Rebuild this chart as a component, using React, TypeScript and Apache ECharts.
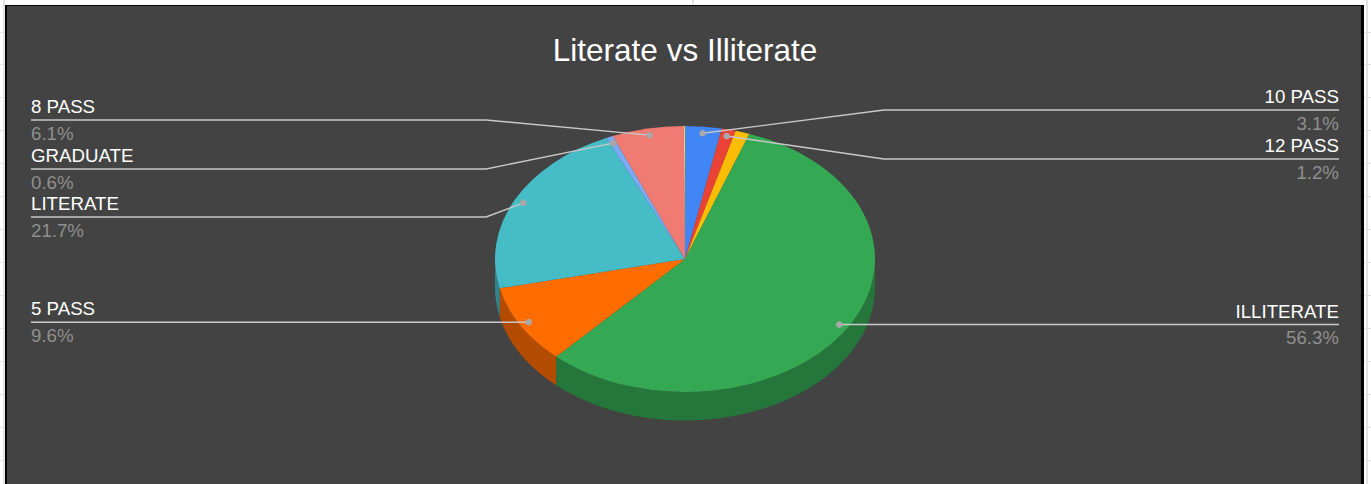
import React, { useEffect, useRef } from "react";
import * as echarts from "echarts";

const titleText = "Literate vs Illiterate";
const categories = ["10 PASS", "12 PASS", "", "ILLITERATE", "5 PASS", "LITERATE", "GRADUATE", "8 PASS", ""];
const shares = [3.1, 1.2, 1.2, 56.3, 9.6, 21.7, 0.6, 6.1, 0.1];
const sliceColors = ["#4285f4", "#ea4335", "#fbbc04", "#34a853", "#ff6d01", "#46bdc6", "#7baaf7", "#f07b72", "#fcd04f"];

// Leader-line layout, per slice: y of the horizontal run and x of its elbow (null = straight from the dot)
const leaderY = [110, 159, null, null, null, 217, 169, 120, null];
const leaderElbow = [884, 884, null, null, null, 486, 486, 486, null];

const W = 1371;
const H = 484;
const CX = 685;
const CY = 259;
const RX = 190;
const RY = 133;
const DEPTH = 28.5;
const LEFT_X = 31;
const RIGHT_X = 1339;
const FONT = '"Liberation Sans", Arial, sans-serif';

const total = shares.reduce((a, b) => a + b, 0);
const startAngles: number[] = [];
shares.reduce((acc, v, i) => {
  startAngles[i] = (acc / total) * Math.PI * 2;
  return acc + v;
}, 0);
const endAngle = (i: number) => startAngles[i] + (shares[i] / total) * Math.PI * 2;

const px = (a: number, k = 1) => CX + Math.sin(a) * RX * k;
const py = (a: number, k = 1) => CY - Math.cos(a) * RY * k;

function darken(hex: string, f: number) {
  const n = parseInt(hex.slice(1), 16);
  const c = [(n >> 16) & 255, (n >> 8) & 255, n & 255].map((v) => Math.round(v * f));
  return `rgb(${c[0]},${c[1]},${c[2]})`;
}

function topPath(a0: number, a1: number) {
  const large = a1 - a0 > Math.PI ? 1 : 0;
  return `M${CX} ${CY}L${px(a0)} ${py(a0)}A${RX} ${RY} 0 ${large} 1 ${px(a1)} ${py(a1)}Z`;
}

function wallPath(a0: number, a1: number) {
  const s = Math.max(a0, Math.PI / 2);
  const e = Math.min(a1, (Math.PI * 3) / 2);
  if (e <= s) return null;
  const large = e - s > Math.PI ? 1 : 0;
  return (
    `M${px(s)} ${py(s)}A${RX} ${RY} 0 ${large} 1 ${px(e)} ${py(e)}` +
    `L${px(e)} ${py(e) + DEPTH}A${RX} ${RY} 0 ${large} 0 ${px(s)} ${py(s) + DEPTH}Z`
  );
}

const seriesData = shares.map((v, i) => [i, v]);

function frameGraphics() {
  const items: any[] = [];
  const grid = "#e3e3e3";
  items.push({ type: "rect", shape: { x: 0, y: 0, width: W, height: H }, style: { fill: "#ffffff" }, silent: true });
  items.push({ type: "rect", shape: { x: 3, y: 0, width: 2, height: H }, style: { fill: grid }, silent: true });
  items.push({ type: "rect", shape: { x: 1366, y: 0, width: 2, height: H }, style: { fill: grid }, silent: true });
  items.push({ type: "rect", shape: { x: 692, y: 0, width: 2, height: 6 }, style: { fill: grid }, silent: true });
  for (const y of [32, 64, 97, 130, 163, 196, 229, 262, 295, 328, 361, 394, 427, 460]) {
    items.push({ type: "rect", shape: { x: 0, y, width: 5, height: 1 }, style: { fill: grid }, silent: true });
    items.push({ type: "rect", shape: { x: 1364, y, width: 7, height: 1 }, style: { fill: grid }, silent: true });
  }
  items.push({ type: "rect", shape: { x: 5, y: 5, width: 1359, height: H - 5 }, style: { fill: "#000000" }, silent: true });
  items.push({ type: "rect", shape: { x: 7, y: 6, width: 1354, height: H - 6 }, style: { fill: "#434343" }, silent: true });
  return items;
}

export default function App() {
  const ref = useRef<HTMLDivElement>(null);
  useEffect(() => {
    document.body.style.margin = "0";
    const chart = echarts.init(ref.current!, null, { renderer: "svg", width: W, height: H });
    chart.setOption({
      animation: false,
      backgroundColor: "#ffffff",
      title: {
        text: titleText,
        left: CX - 5,
        top: 29,
        textAlign: "center",
        z: 10,
        textStyle: { color: "#ffffff", fontSize: 31.5, fontWeight: "normal", fontFamily: FONT },
      },
      graphic: { elements: frameGraphics() },
      series: [
        {
          type: "custom",
          name: "walls",
          coordinateSystem: "none",
          silent: true,
          z: 3,
          data: seriesData,
          renderItem: (params: any) => {
            const i = params.dataIndex;
            const d = wallPath(startAngles[i], endAngle(i));
            if (!d) return { type: "group", children: [] };
            return { type: "path", shape: { pathData: d }, style: { fill: darken(sliceColors[i], 0.7) } };
          },
        },
        {
          type: "custom",
          name: "tops",
          coordinateSystem: "none",
          silent: true,
          z: 4,
          data: seriesData,
          renderItem: (params: any) => {
            const i = params.dataIndex;
            return {
              type: "path",
              shape: { pathData: topPath(startAngles[i], endAngle(i)) },
              style: { fill: sliceColors[i] },
            };
          },
        },
        {
          type: "custom",
          name: "labels",
          coordinateSystem: "none",
          silent: true,
          z: 5,
          data: seriesData,
          renderItem: (params: any) => {
            const i = params.dataIndex;
            const name = categories[i];
            if (!name) return { type: "group", children: [] };
            const mid = (startAngles[i] + endAngle(i)) / 2;
            const dx = px(mid, 0.95);
            const dy = py(mid, 0.95);
            const right = mid < Math.PI;
            const edge = right ? RIGHT_X : LEFT_X;
            const y = leaderY[i] ?? dy;
            const elbow = leaderElbow[i];
            const pts = elbow == null ? [[dx, dy], [edge, y]] : [[dx, dy], [elbow, y], [edge, y]];
            return {
              type: "group",
              children: [
                { type: "polyline", shape: { points: pts }, style: { stroke: "#c9c9c9", lineWidth: 1.4, fill: "none" } },
                { type: "circle", shape: { cx: dx, cy: dy, r: 3.3 }, style: { fill: "#a8a8a8" } },
                {
                  type: "text",
                  style: {
                    text: name, x: edge, y: y - 13.5, fill: "#ffffff", fontSize: 18.7, fontFamily: FONT,
                    textAlign: right ? "right" : "left", textVerticalAlign: "middle",
                  },
                },
                {
                  type: "text",
                  style: {
                    text: `${shares[i].toFixed(1)}%`, x: edge, y: y + 13, fill: "#8f8f8f", fontSize: 18.7, fontFamily: FONT,
                    textAlign: right ? "right" : "left", textVerticalAlign: "middle",
                  },
                },
              ],
            };
          },
        },
      ],
    });
    return () => chart.dispose();
  }, []);
  return <div ref={ref} style={{ width: W, height: H }} />;
}
